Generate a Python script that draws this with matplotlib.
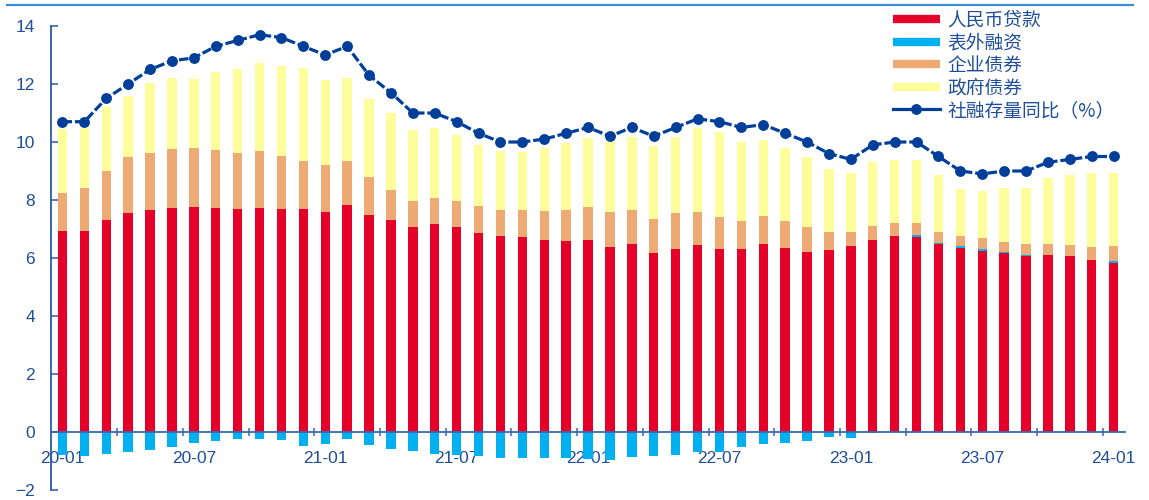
import numpy as np
import matplotlib
matplotlib.use("Agg")
import matplotlib.pyplot as plt
from matplotlib.lines import Line2D

# Data: monthly, 2020-01 .. 2024-01 (contribution to TSF growth, pct points)
loans = [6.93, 6.93, 7.31, 7.56, 7.64, 7.71, 7.76, 7.72, 7.69, 7.72, 7.70, 7.69,
         7.60, 7.82, 7.50, 7.30, 7.08, 7.17, 7.06, 6.87, 6.76, 6.74, 6.62, 6.57,
         6.62, 6.39, 6.48, 6.18, 6.31, 6.45, 6.31, 6.31, 6.49, 6.33, 6.22, 6.29,
         6.41, 6.62, 6.76, 6.72, 6.47, 6.35, 6.23, 6.18, 6.07, 6.10, 6.08, 5.94,
         5.84]
offbal = [-0.80, -0.83, -0.77, -0.70, -0.63, -0.51, -0.37, -0.30, -0.24, -0.23, -0.28, -0.49,
          -0.40, -0.23, -0.45, -0.57, -0.67, -0.75, -0.78, -0.83, -0.91, -0.91, -0.91, -0.90,
          -0.92, -0.97, -0.85, -0.83, -0.80, -0.69, -0.69, -0.52, -0.43, -0.38, -0.32, -0.18,
          -0.20, -0.03, 0.00, 0.07, 0.06, 0.06, 0.07, 0.01, 0.02, 0.00, 0.00, 0.00,
          0.07]
corp = [1.32, 1.47, 1.70, 1.92, 1.99, 2.06, 2.04, 2.00, 1.94, 1.96, 1.83, 1.66,
        1.62, 1.53, 1.28, 1.05, 0.90, 0.90, 0.89, 0.92, 0.90, 0.90, 1.00, 1.09,
        1.13, 1.20, 1.18, 1.18, 1.23, 1.15, 1.09, 0.97, 0.95, 0.95, 0.84, 0.61,
        0.49, 0.49, 0.46, 0.43, 0.37, 0.35, 0.38, 0.37, 0.38, 0.37, 0.37, 0.44,
        0.50]
gov = [2.19, 2.09, 2.18, 2.12, 2.42, 2.43, 2.37, 2.70, 2.90, 3.03, 3.10, 3.20,
       2.92, 2.85, 2.69, 2.66, 2.43, 2.41, 2.29, 2.11, 2.02, 2.03, 2.17, 2.31,
       2.39, 2.41, 2.50, 2.51, 2.64, 2.88, 2.94, 2.73, 2.63, 2.50, 2.41, 2.16,
       2.03, 2.19, 2.15, 2.15, 1.96, 1.62, 1.62, 1.84, 1.93, 2.28, 2.42, 2.56,
       2.51]
tsf_yoy = [10.7, 10.7, 11.5, 12.0, 12.5, 12.8, 12.9, 13.3, 13.5, 13.7, 13.6, 13.3,
           13.0, 13.3, 12.3, 11.7, 11.0, 11.0, 10.7, 10.3, 10.0, 10.0, 10.1, 10.3,
           10.5, 10.2, 10.5, 10.2, 10.5, 10.8, 10.7, 10.5, 10.6, 10.3, 10.0, 9.6,
           9.4, 9.9, 10.0, 10.0, 9.5, 9.0, 8.9, 9.0, 9.0, 9.3, 9.4, 9.5,
           9.5]
tick_labels = ['20-01', '20-07', '21-01', '21-07', '22-01', '22-07', '23-01', '23-07', '24-01']
names = ['人民币贷款', '表外融资', '企业债券', '政府债券', '社融存量同比（%）']

c_red = '#e5002a'
c_blue = '#00b0f0'
c_orange = '#eeaa74'
c_yellow = '#fdfd9c'
c_line = '#003f99'
c_text = '#1f4e9a'
c_axis = '#3a67b0'

x = np.arange(len(loans))
loans = np.array(loans)
offbal = np.array(offbal)
corp = np.array(corp)
gov = np.array(gov)

# stacking: positive off-balance sits on loans, negative goes below zero
pos_off = np.clip(offbal, 0, None)
corp_bottom = loans + pos_off
gov_bottom = corp_bottom + corp
off_bottom = np.where(offbal > 0, loans, 0)

fig = plt.figure(figsize=(11.49, 5.0), dpi=100)
ax = fig.add_axes([0.0448, 0.02, 0.934, 0.928])

w = 0.43
ax.bar(x, loans, w, color=c_red, zorder=2)
ax.bar(x, offbal, w, bottom=off_bottom, color=c_blue, zorder=2)
ax.bar(x, corp, w, bottom=corp_bottom, color=c_orange, zorder=2)
ax.bar(x, gov, w, bottom=gov_bottom, color=c_yellow, zorder=2)
ax.plot(x, tsf_yoy, color=c_line, lw=2.3, dashes=(3, 0.9), marker='o',
        markersize=6.8, zorder=4)

ax.set_xlim(-0.5, len(loans) - 0.5)
ax.set_ylim(-2, 14)
ax.set_yticks(np.arange(-2, 15, 2))

# spines
for s in ['top', 'right']:
    ax.spines[s].set_visible(False)
ax.spines['bottom'].set_position(('data', 0))
ax.spines['bottom'].set_color(c_axis)
ax.spines['bottom'].set_linewidth(1.3)
ax.spines['bottom'].set_zorder(3)
ax.spines['left'].set_color('#2a5aa6')
ax.spines['left'].set_linewidth(1.3)

# x ticks: labels every 6 months, tick marks every 3 months between bars
ax.set_xticks(np.arange(0, len(loans), 6))
ax.set_xticklabels(tick_labels)
ax.set_xticks(np.arange(2.5, len(loans) - 1, 3), minor=True)
ax.tick_params(axis='x', which='major', length=0, pad=14, labelcolor=c_text,
               labelsize=12.5)
ax.tick_params(axis='x', which='minor', direction='inout', length=6,
               width=1.1, color=c_axis)
ax.tick_params(axis='y', direction='in', length=5, width=1.1, color='#2a5aa6',
               labelcolor=c_text, labelsize=12.5, pad=12)
for lab in ax.get_xticklabels() + ax.get_yticklabels():
    lab.set_family('Liberation Sans')

# legend
handles = [Line2D([], [], color=c_red, lw=6, solid_capstyle='butt'),
           Line2D([], [], color=c_blue, lw=6, solid_capstyle='butt'),
           Line2D([], [], color=c_orange, lw=6, solid_capstyle='butt'),
           Line2D([], [], color=c_yellow, lw=6, solid_capstyle='butt'),
           Line2D([], [], color=c_line, lw=2.3, marker='o', markersize=6.8)]
leg = fig.legend(handles, names, loc='upper left',
                 bbox_to_anchor=(893 / 1149, 1 - 10 / 500),
                 frameon=False, borderpad=0, borderaxespad=0,
                 handlelength=2.5, handletextpad=0.4, labelspacing=0.08,
                 prop={'family': ['Noto Sans CJK SC', 'DejaVu Sans'], 'size': 13.5})
for t in leg.get_texts():
    t.set_color(c_text)

# thin blue rule across the top
fig.add_artist(Line2D([7 / 1149, 1133 / 1149], [1 - 5 / 500, 1 - 5 / 500],
                      color='#3b8ed6', lw=1.6, transform=fig.transFigure))

fig.savefig('out.png', dpi=100)
